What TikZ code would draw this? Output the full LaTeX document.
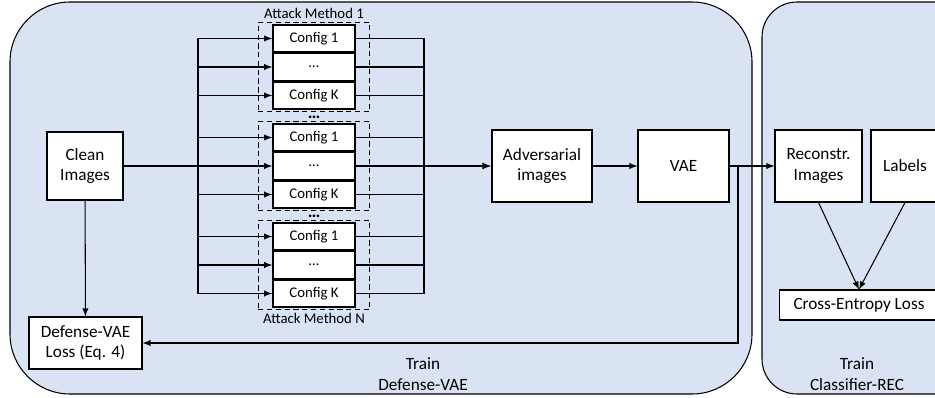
\documentclass[tikz,border=0pt]{standalone}
\usepackage{fontspec}
\setmainfont{Carlito}
\usetikzlibrary{arrows,positioning,fit}
\definecolor{panelblue}{RGB}{218,227,243}
\tikzset{every picture/.style={line width=0.6pt}}
\tikzstyle{box}=[draw,fill=white,align=center,inner sep=0pt,font=\fontsize{9.8}{11.8}\selectfont]
\tikzstyle{cfg}=[draw,fill=white,line width=0.9pt,minimum width=1.64cm,minimum height=0.54cm,inner sep=0pt,font=\fontsize{8.4}{10}\selectfont]
\tikzstyle{grp}=[draw,dash pattern=on 3pt off 2pt,inner xsep=0.28cm,inner ysep=0.04cm]
\tikzstyle{panel}=[draw,fill=panelblue]
\tikzstyle{txt}=[align=center,inner sep=1pt,font=\fontsize{9.8}{11.8}\selectfont]
\tikzstyle{small}=[inner sep=1pt,font=\fontsize{8.4}{10}\selectfont]

\begin{document}
\begin{tikzpicture}[x=0.02cm,y=-0.02cm,>=latex]
\useasboundingbox (0,0) rectangle (935,398);
\clip (0,0) rectangle (935,398);
% panels
\draw[panel,rounded corners=1.2cm] (10,2) rectangle (752,394);
\draw[panel,rounded corners=0.7cm] (762,2) rectangle (975,394);
% main blocks
\node[box,minimum width=1.52cm,minimum height=1.36cm] (clean) at (85,166) {Clean\\Images};
\node[box,minimum width=2.26cm,minimum height=1.04cm] (loss) at (85.5,343) {Defense-VAE\\Loss (Eq. 4)};
\node[box,minimum width=2cm,minimum height=1.44cm] (adv) at (542,166) {Adversarial\\images};
\node[box,minimum width=1.82cm,minimum height=1.44cm] (vae) at (683.5,166) {VAE};
\node[box,minimum width=1.74cm,minimum height=1.44cm] (rec) at (818.5,166) {Reconstr.\\Images};
\node[box,minimum width=1.36cm,minimum height=1.44cm] (lab) at (905,166) {Labels};
\node[box,minimum width=3.2cm,minimum height=0.6cm] (ce) at (859,305) {Cross-Entropy Loss};
% attack methods and their configs
\foreach \g/\cy in {1/67,2/166,3/265}{
  \foreach \k/\t in {1/Config 1,2/\ldots,3/Config K}{
    \node[cfg] (c\g\k) at (314,{\cy+(\k-2)*28.5}) {\t};
  }
  \node[grp,fit=(c\g1)(c\g3)] (m\g) {};
}
\node[small,above=0.02cm of m1] (am1) {Attack Method 1};
\node[small,below=0.02cm of m3] (amn) {Attack Method N};
\node[anchor=base,inner sep=0pt] (dots1) at (314,119) {\textbf{\ldots}};
\node[anchor=base,inner sep=0pt] (dots2) at (314,218) {\textbf{\ldots}};
% buses
\coordinate (lbus) at (198,0);
\coordinate (rbus) at (424,0);
\coordinate (tap) at (738,0);
\draw (lbus |- c11) -- (lbus |- c33);
\draw (rbus |- c11) -- (rbus |- c33);
\foreach \g in {1,2,3}
  \foreach \k in {1,2,3}{
    \draw[->] (lbus |- c\g\k) -- (c\g\k.west);
    \draw (c\g\k.east) -- (rbus |- c\g\k);
  }
% data flow
\draw[thick] (clean) -- (lbus |- clean);
\draw[thick,->] (rbus |- adv) -- (adv);
\draw[->] (adv) -- (vae);
\draw[->] (vae) -- (rec);
\draw[->] (tap |- vae) |- (loss.east);
\draw[->] (clean) -- (loss);
\draw[->] (rec.south) -- (ce.north);
\draw[->] (lab.south) -- (ce.north);
% captions
\node[txt] (tr1) at (423,374) {Train\\Defense-VAE};
\node[txt] (tr2) at (857,374) {Train\\Classifier-REC};
\end{tikzpicture}
\end{document}
